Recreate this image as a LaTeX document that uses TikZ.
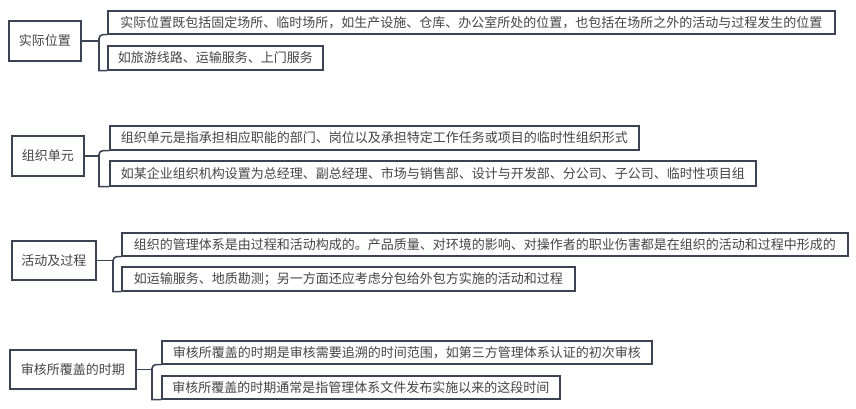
\documentclass[tikz,border=0pt]{standalone}
\usepackage{fontspec}
\setmainfont{Noto Sans CJK SC}
\definecolor{boxc}{HTML}{3C4453}
\definecolor{txtc}{HTML}{454545}
\begin{document}
\begin{tikzpicture}[x=1pt,y=-1pt,
  box/.style={draw=boxc, line width=1.6pt, text=txtc, font=\fontsize{13}{13}\selectfont, inner sep=0pt, anchor=north west},
  conn/.style={draw=boxc, line width=1.6pt}]
\useasboundingbox[fill=white] (0,0) rectangle (856,408);

% group 1
\node[box, minimum width=72, minimum height=40] (p1) at (8,20) {实际位置};
\node[box, minimum width=727, minimum height=23] (g1a) at (107,10) {实际位置既包括固定场所、临时场所，如生产设施、仓库、办公室所处的位置，也包括在场所之外的活动与过程发生的位置};
\node[box, minimum width=215, minimum height=24] (g1b) at (107,45) {如旅游线路、运输服务、上门服务};
\coordinate (j1) at (99,40);

% group 2
\node[box, minimum width=72, minimum height=40] (p2) at (11,135) {组织单元};
\node[box, minimum width=529, minimum height=24] (g2a) at (109,125) {组织单元是指承担相应职能的部门、岗位以及承担特定工作任务或项目的临时性组织形式};
\node[box, minimum width=646, minimum height=25] (g2b) at (109,160) {如某企业组织机构设置为总经理、副总经理、市场与销售部、设计与开发部、分公司、子公司、临时性项目组};
\coordinate (j2) at (99,155);

% group 3
\node[box, minimum width=84, minimum height=39] (p3) at (11,240) {活动及过程};
\node[box, minimum width=726, minimum height=23] (g3a) at (121,232) {组织的管理体系是由过程和活动构成的。产品质量、对环境的影响、对操作者的职业伤害都是在组织的活动和过程中形成的};
\node[box, minimum width=453, minimum height=24] (g3b) at (121,266) {如运输服务、地质勘测；另一方面还应考虑分包给外包方实施的活动和过程};
\coordinate (j3) at (113,260);

% group 4
\node[box, minimum width=126, minimum height=39] (p4) at (9,349) {审核所覆盖的时期};
\node[box, minimum width=490, minimum height=23] (g4a) at (161,340) {审核所覆盖的时期是审核需要追溯的时间范围，如第三方管理体系认证的初次审核};
\node[box, minimum width=398, minimum height=23] (g4b) at (161,375) {审核所覆盖的时期通常是指管理体系文件发布实施以来的这段时间};
\coordinate (j4) at (152,369);

% connectors
\foreach \p/\a/\b/\j in {p1/g1a/g1b/j1, p2/g2a/g2b/j2, p3/g3a/g3b/j3, p4/g4a/g4b/j4}{
  \draw[conn] (\p.east) -- (\p.east -| \j);
  \draw[conn, rounded corners=4pt] (\a.south west) -- (\a.south west -| \j) [sharp corners] -- (\b.south west -| \j) -- (\b.south west);
}
\end{tikzpicture}
\end{document}
